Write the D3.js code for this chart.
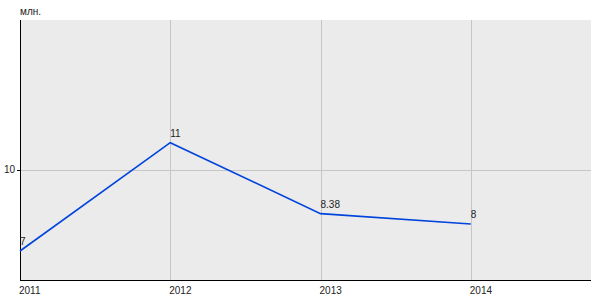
<!DOCTYPE html>
<html>
<head>
<meta charset="utf-8">
<script src="https://cdn.jsdelivr.net/npm/d3@7"></script>
<style>
  body { margin: 0; background: #fff; }
  svg text { font-family: "Liberation Sans", Arial, sans-serif; font-size: 10px; fill: #222; }
</style>
</head>
<body>
<svg width="600" height="300"></svg>
<script>
const years = [2011, 2012, 2013, 2014];
const values = [7, 11, 8.38, 8];
const valueLabels = ['7', '11', '8.38', '8'];
const yTicks = [10];
const unitLabel = 'млн.';

const svg = d3.select('svg');
const margin = {left: 20, top: 20, right: 9, bottom: 20};
const W = 600, H = 300;

const x = d3.scaleLinear()
  .domain([2011, 2014.8])
  .range([margin.left, W - margin.right]);
const y = d3.scaleLinear()
  .domain([5.93, 15.53])
  .range([H - margin.bottom, margin.top]);

// plot background
svg.append('rect')
  .attr('x', margin.left)
  .attr('y', margin.top)
  .attr('width', W - margin.right - margin.left)
  .attr('height', H - margin.bottom - margin.top)
  .attr('fill', '#ebebeb');

// grid
svg.append('g').selectAll('line')
  .data(years.slice(1))
  .join('line')
  .attr('x1', d => Math.round(x(d)) + 0.5)
  .attr('x2', d => Math.round(x(d)) + 0.5)
  .attr('y1', margin.top)
  .attr('y2', H - margin.bottom)
  .attr('stroke', '#c6c6c6');
svg.append('g').selectAll('line')
  .data(yTicks)
  .join('line')
  .attr('x1', margin.left)
  .attr('x2', W - margin.right)
  .attr('y1', d => Math.round(y(d)) + 0.5)
  .attr('y2', d => Math.round(y(d)) + 0.5)
  .attr('stroke', '#c6c6c6');
// small black tick on y axis
svg.append('g').selectAll('line')
  .data(yTicks)
  .join('line')
  .attr('x1', margin.left - 3)
  .attr('x2', margin.left)
  .attr('y1', d => Math.round(y(d)) + 0.5)
  .attr('y2', d => Math.round(y(d)) + 0.5)
  .attr('stroke', '#000');

// axes lines
svg.append('line')
  .attr('x1', margin.left + 0.5).attr('x2', margin.left + 0.5)
  .attr('y1', margin.top).attr('y2', H - margin.bottom)
  .attr('stroke', '#000');
svg.append('line')
  .attr('x1', margin.left).attr('x2', W - margin.right)
  .attr('y1', H - margin.bottom + 0.5).attr('y2', H - margin.bottom + 0.5)
  .attr('stroke', '#000');

// axis labels
svg.append('g').selectAll('text')
  .data(years)
  .join('text')
  .attr('x', d => x(d) - 1)
  .attr('y', H - margin.bottom + 14)
  .text(d => d);
svg.append('g').selectAll('text')
  .data(yTicks)
  .join('text')
  .attr('x', margin.left - 5)
  .attr('y', d => y(d) + 3)
  .attr('text-anchor', 'end')
  .text(d => d);
svg.append('text')
  .attr('x', margin.left)
  .attr('y', 15)
  .text(unitLabel);

// line
const pts = years.map((yr, i) => [yr, values[i]]);
svg.append('path')
  .datum(pts)
  .attr('fill', 'none')
  .attr('stroke', '#0044dd')
  .attr('stroke-width', 1.6)
  .attr('d', d3.line().x(d => x(d[0])).y(d => y(d[1])));

// value labels
svg.append('g').selectAll('text')
  .data(pts)
  .join('text')
  .attr('x', d => x(d[0]))
  .attr('y', d => y(d[1]) - 6)
  .text((d, i) => valueLabels[i]);
</script>
</body>
</html>
